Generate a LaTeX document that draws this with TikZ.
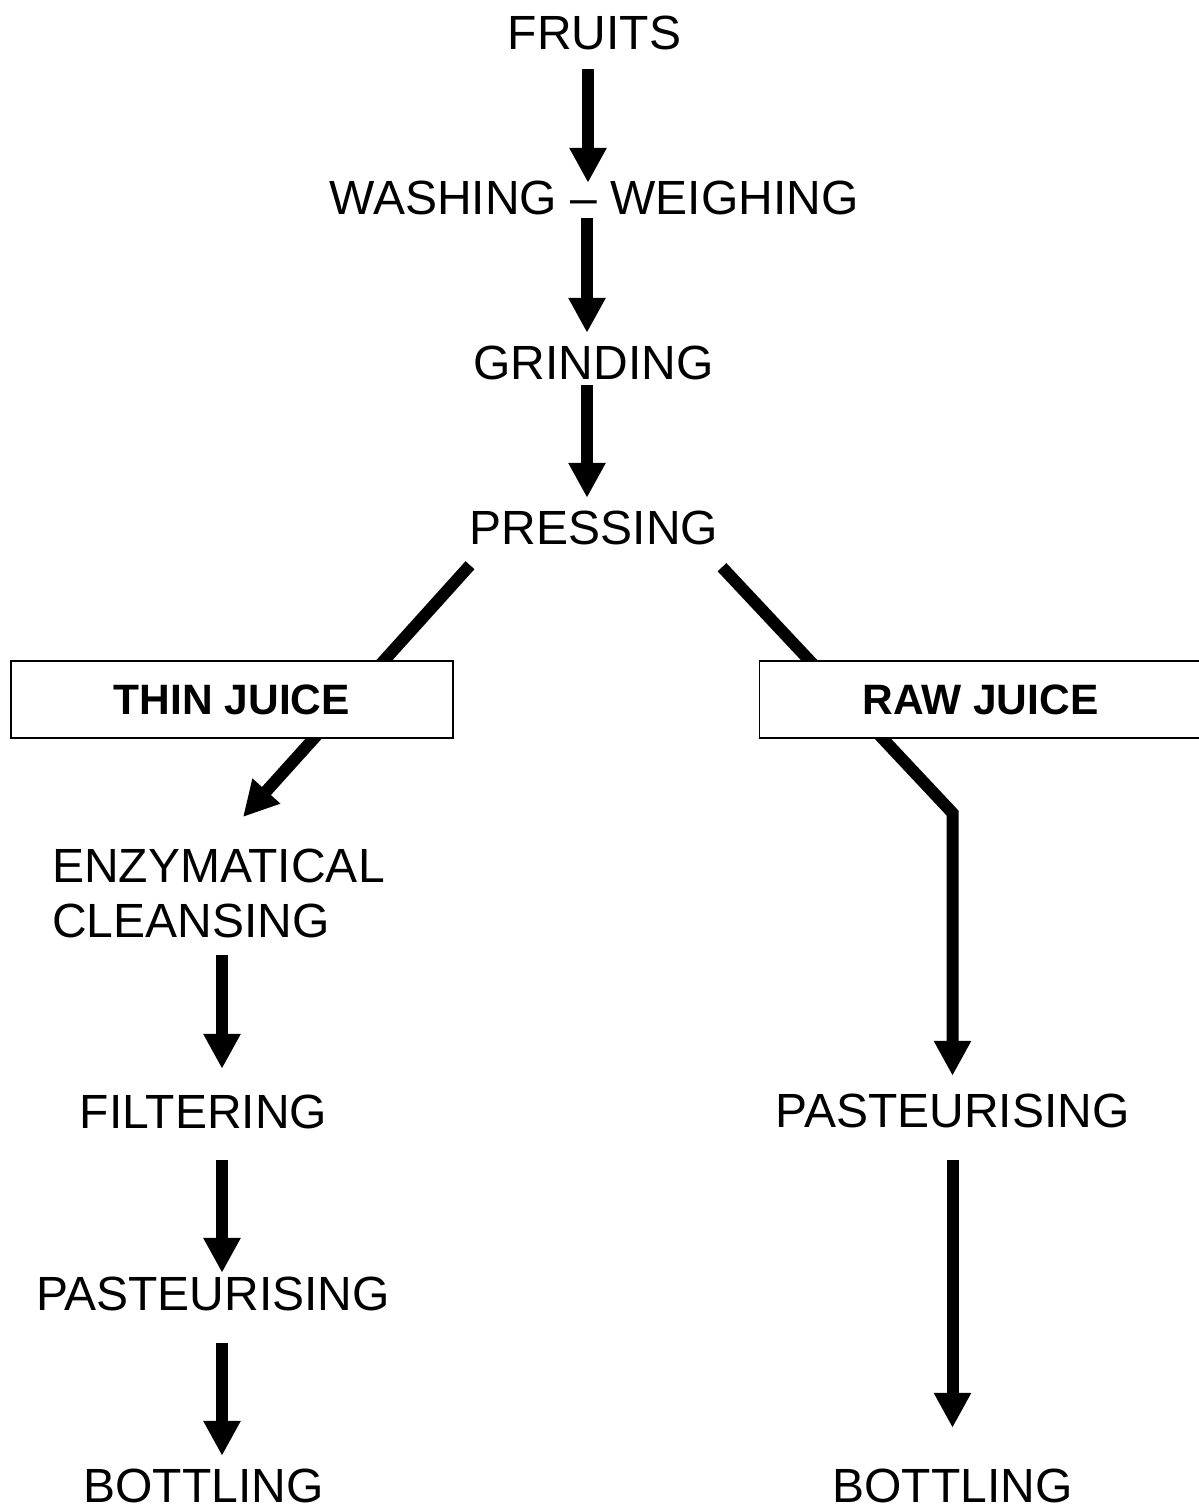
\documentclass[tikz,border=0pt]{standalone}
\usepackage{fontspec}
\setmainfont{Liberation Sans}
\usetikzlibrary{arrows.meta}

\begin{document}
\begin{tikzpicture}[
    x=1pt, y=-1pt,
    stage/.style={font=\fontsize{48}{57}\selectfont, inner sep=0pt, text height=34pt, text depth=0pt},
    juicebox/.style={draw, line width=1.5pt, fill=white, inner sep=0pt,
                     minimum width=442pt, minimum height=77pt,
                     font=\fontsize{42.5}{51}\selectfont\bfseries},
    flow/.style={line width=12pt, -{Triangle[length=35pt,width=35pt]}},
]

% ============================================================
% FRAME (page = 1199 x 1510 px, 1px = 1pt, y downwards)
% ============================================================
\useasboundingbox (0,0) rectangle (1199,1510);

% ============================================================
% MAIN LINE
% ============================================================
\node[stage] (fruits)   at (594.5,32)  {FRUITS};
\node[stage] (washing)  at (594,197)   {WASHING -- WEIGHING};
\node[stage] (grinding) at (593.5,362) {GRINDING};
\node[stage] (pressing) at (594,527)   {PRESSING};

% ============================================================
% THIN JUICE SIDE (left)
% ============================================================
\node[stage, anchor=north west] (enz) at (52,848) {ENZYMATICAL};
\node[stage, anchor=north west] (cle) at (52,903) {CLEANSING};
\node[stage] (filtering) at (203.5,1111) {FILTERING};
\node[stage] (pastl)     at (213,1293)   {PASTEURISING};
\node[stage] (bottl)     at (203.5,1485) {BOTTLING};

% ============================================================
% RAW JUICE SIDE (right)
% ============================================================
\node[stage] (pastr) at (952.5,1110) {PASTEURISING};
\node[stage] (bottr) at (952.5,1485) {BOTTLING};
\coordinate (rawbend) at (952.5,813);

% ============================================================
% CONNECTIONS
% ============================================================
\draw[flow] ([xshift=-6.5pt,yshift=-20pt]fruits.south) -- ([xshift=-6pt,yshift=-3pt]washing.north);
\draw[flow] ([xshift=-7pt,yshift=-4pt]washing.south) -- ([xshift=-6.5pt,yshift=12pt]grinding.north);
\draw[flow] ([xshift=-6.5pt,yshift=-6pt]grinding.south) -- ([xshift=-7pt,yshift=12pt]pressing.north);

% Pressing -> thin juice -> enzymatical cleansing
\draw[flow] ([xshift=-124pt,yshift=-21pt]pressing.south) -- ([xshift=191pt,yshift=31pt]enz.north west);

% Pressing -> raw juice -> pasteurising (bent)
\draw[flow] ([xshift=128pt,yshift=-23pt]pressing.south) -- (rawbend) -- ([yshift=17pt]pastr.north);

\draw[flow] ([xshift=170pt,yshift=-18pt]cle.south west) -- ([xshift=18.5pt,yshift=25pt]filtering.north);
\draw[flow] ([xshift=18.5pt,yshift=-32pt]filtering.south) -- ([xshift=9pt,yshift=3pt]pastl.north);
\draw[flow] ([xshift=9pt,yshift=-33pt]pastl.south) -- ([xshift=18.5pt,yshift=12pt]bottl.north);

\draw[flow] ([yshift=-33pt]pastr.south) -- ([yshift=40pt]bottr.north);

% ============================================================
% JUICE BOXES (over the lines)
% ============================================================
\node[juicebox] (thin) at (232,699.5)   {THIN JUICE};
\node[juicebox] (raw)  at (980.5,699.5) {RAW JUICE};

\end{tikzpicture}
\end{document}
